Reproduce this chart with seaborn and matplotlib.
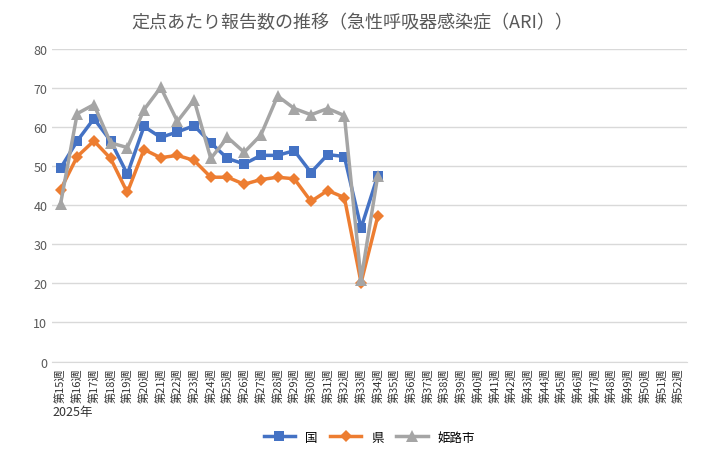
import matplotlib
matplotlib.use("Agg")
import matplotlib.pyplot as plt
import seaborn as sns
import pandas as pd
import numpy as np

plt.rcParams["font.family"] = "Noto Sans CJK JP"

weeks = [f"第{i}週" for i in range(15, 53)]
kuni = [49.5, 56.5, 62.2, 56.5, 48.0, 60.2, 57.4, 58.8, 60.4, 56.0, 52.0, 50.6, 52.8, 52.8, 54.0, 48.4, 53.0, 52.5, 34.2, 47.6]
ken = [44.0, 52.5, 56.5, 52.0, 43.3, 54.3, 52.2, 52.8, 51.5, 47.2, 47.2, 45.4, 46.6, 47.2, 46.8, 41.0, 43.8, 42.0, 20.2, 37.2]
himeji = [40.3, 63.5, 65.8, 56.0, 54.8, 64.5, 70.2, 61.5, 67.0, 52.0, 57.4, 53.6, 58.0, 68.0, 64.8, 63.2, 64.8, 63.0, 21.0, 47.6]
series = {"国": kuni, "県": ken, "姫路市": himeji}
colors = {"国": "#4472C4", "県": "#ED7D31", "姫路市": "#A5A5A5"}
markers = {"国": "s", "県": "D", "姫路市": "^"}
msize = {"国": 7, "県": 6, "姫路市": 8}

rows = []
for name, vals in series.items():
    for i, v in enumerate(vals):
        rows.append({"x": i, "v": v, "s": name})
df = pd.DataFrame(rows)

fig = plt.figure(figsize=(7.05, 4.56), dpi=100)
ax = fig.add_axes([0.074, 0.205, 0.9, 0.685])
for name in series:
    d = df[df.s == name]
    sns.lineplot(data=d, x="x", y="v", ax=ax, color=colors[name], lw=2.5,
                 marker=markers[name], markersize=msize[name], markeredgewidth=0, label=name)

ax.set_xlim(-0.5, len(weeks) - 0.5)
ax.set_ylim(0, 80)
ax.set_yticks(range(0, 81, 10))
ax.set_xticks(range(len(weeks)))
ax.set_xticklabels(weeks, rotation=90, fontsize=8, color="#333333")
ax.tick_params(axis="y", labelsize=9, colors="#595959", length=0)
ax.tick_params(axis="x", length=0, pad=4)
ax.grid(axis="y", color="#D9D9D9", lw=1)
for s in ["top", "right", "left"]:
    ax.spines[s].set_visible(False)
ax.spines["bottom"].set_color("#D9D9D9")
ax.set_xlabel(""); ax.set_ylabel("")
fig.text(0.074, 0.088, "2025年", fontsize=9, color="#333333")
fig.suptitle("定点あたり報告数の推移（急性呼吸器感染症（ARI））", fontsize=13, color="#595959", y=0.97)
ax.legend(loc="upper center", bbox_to_anchor=(0.5, -0.185), ncol=3, frameon=False, fontsize=9,
          handlelength=2.5, columnspacing=1.0)
fig.savefig("out.png", dpi=100)
